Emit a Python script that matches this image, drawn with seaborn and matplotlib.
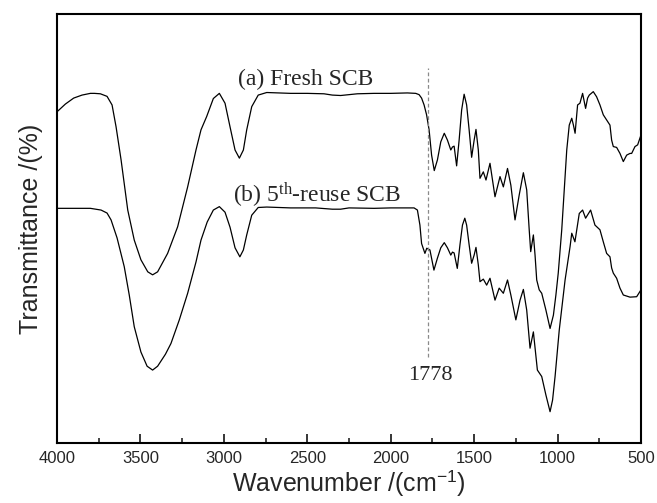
import numpy as np
import pandas as pd
import matplotlib
matplotlib.use("Agg")
import matplotlib.pyplot as plt
import seaborn as sns

# ---- data (wavenumber in cm^-1, transmittance in arbitrary units) ----
fresh_wn = [4000, 3950, 3900, 3850, 3800, 3776, 3740, 3700, 3670, 3646, 3616, 3576, 3537, 3497,
            3456, 3427, 3397, 3337, 3277, 3217, 3167, 3137, 3103, 3063, 3027, 2993, 2963, 2933,
            2907, 2883, 2863, 2833, 2794, 2743, 2600, 2500, 2400, 2350, 2300, 2250, 2200, 2100,
            2000, 1900, 1850, 1830, 1815, 1800, 1785, 1770, 1755, 1739, 1720, 1700, 1679, 1660,
            1640, 1630, 1620, 1605, 1590, 1575, 1560, 1545, 1530, 1515, 1500, 1489, 1475, 1465,
            1445, 1429, 1405, 1375, 1345, 1325, 1300, 1280, 1255, 1230, 1205, 1185, 1170, 1161,
            1145, 1135, 1125, 1110, 1095, 1070, 1045, 1025, 1010, 996, 975, 960, 945, 930, 915,
            905, 895, 880, 866, 850, 832, 820, 810, 786, 766, 746, 726, 706, 686, 676, 666, 646,
            626, 606, 586, 566, 556, 536, 520, 500]
fresh_T = [77.2, 79.0, 80.4, 81.1, 81.5, 81.5, 81.4, 80.8, 78.8, 73.7, 66.0, 54.3, 47.3, 42.7,
           39.9, 39.2, 39.9, 44.2, 50.4, 59.7, 68.3, 73.0, 76.1, 80.3, 81.5, 79.2, 73.7, 68.3,
           66.4, 68.3, 73.0, 78.4, 81.1, 81.7, 81.5, 81.5, 81.4, 81.1, 81.0, 81.2, 81.4, 81.5,
           81.5, 81.6, 81.5, 81.2, 80.4, 78.8, 76.5, 73.0, 67.1, 63.5, 66.0, 70.2, 72.2, 70.6,
           68.3, 69.0, 69.2, 64.6, 70.6, 77.6, 81.3, 78.8, 73.0, 66.6, 70.6, 73.1, 68.3, 61.7,
           63.2, 61.3, 65.2, 57.4, 62.1, 59.7, 64.0, 60.1, 52.0, 57.8, 63.0, 59.0, 49.7, 44.6,
           48.5, 43.8, 38.0, 35.7, 34.9, 31.0, 26.7, 29.8, 34.5, 39.6, 49.7, 59.0, 68.3, 74.1, 75.7,
           74.1, 72.2, 78.8, 79.2, 81.5, 78.0, 80.4, 81.1, 81.9, 80.7, 78.8, 76.5, 75.3, 74.1, 70.6,
           69.1, 68.9, 67.5, 65.6, 67.1, 67.5, 67.5, 69.1, 69.5, 71.8]

reuse_wn = [4000, 3900, 3800, 3736, 3700, 3676, 3640, 3597, 3567, 3537, 3497, 3460, 3427, 3397,
            3350, 3317, 3267, 3217, 3167, 3137, 3100, 3063, 3027, 2993, 2963, 2933, 2904, 2883,
            2863, 2833, 2794, 2743, 2600, 2450, 2350, 2300, 2250, 2100, 2000, 1900, 1860, 1840,
            1825, 1815, 1795, 1784, 1765, 1741, 1720, 1700, 1679, 1660, 1640, 1630, 1620, 1601,
            1585, 1570, 1556, 1545, 1530, 1515, 1500, 1489, 1475, 1465, 1445, 1425, 1405, 1375,
            1350, 1325, 1300, 1280, 1250, 1225, 1205, 1185, 1165, 1145, 1121, 1095, 1070, 1045,
            1030, 1015, 990, 955, 925, 915, 896, 870, 850, 832, 802, 776, 746, 726, 706, 686, 676,
            666, 646, 626, 606, 566, 526, 500]
reuse_T = [54.7, 54.7, 54.7, 54.3, 53.6, 52.0, 47.8, 41.1, 34.5, 27.1, 21.2, 17.9, 17.0, 17.9,
           20.7, 23.2, 28.7, 34.9, 42.2, 47.3, 51.5, 54.3, 55.1, 53.8, 50.3, 45.5, 43.4, 45.0,
           48.5, 53.1, 54.9, 55.0, 54.8, 54.8, 54.5, 54.5, 54.8, 54.7, 54.8, 54.8, 54.8, 54.3,
           50.8, 46.5, 44.2, 45.4, 45.0, 40.3, 43.1, 45.5, 46.7, 45.5, 43.8, 44.5, 44.3, 40.7,
           46.2, 50.8, 52.4, 50.8, 46.2, 41.9, 43.8, 45.6, 41.5, 37.6, 38.2, 36.8, 38.4, 33.3,
           36.1, 34.9, 38.0, 34.5, 28.7, 33.3, 35.8, 31.0, 22.1, 25.9, 17.0, 15.5, 11.2, 7.3,
           10.0, 15.5, 26.3, 38.0, 45.8, 48.9, 46.9, 53.5, 54.3, 52.4, 54.3, 50.8, 49.7, 46.9,
           44.2, 43.4, 40.8, 39.6, 38.4, 36.1, 34.5, 34.0, 34.1, 35.7]

series_names = ["(a) Fresh SCB", "(b) 5th-reuse SCB"]
marker_wn = 1778
x_ticks = [4000, 3500, 3000, 2500, 2000, 1500, 1000, 500]

df = pd.concat([
    pd.DataFrame({"wn": fresh_wn, "T": fresh_T, "sample": series_names[0]}),
    pd.DataFrame({"wn": reuse_wn, "T": reuse_T, "sample": series_names[1]}),
], ignore_index=True)

sns.set_style("ticks")
plt.rcParams["font.family"] = ["Liberation Sans", "DejaVu Sans"]
plt.rcParams["mathtext.fontset"] = "custom"
plt.rcParams["mathtext.rm"] = "Liberation Serif"
plt.rcParams["mathtext.it"] = "Liberation Serif:italic"
plt.rcParams["mathtext.sf"] = "Liberation Sans"

fig = plt.figure(figsize=(6.57, 5.03), dpi=100)
ax = fig.add_axes([57 / 657, 1 - 443 / 503, (641 - 57) / 657, (443 - 14) / 503])

sns.lineplot(data=df, x="wn", y="T", hue="sample", palette=["black", "black"],
             estimator=None, sort=False, legend=False, linewidth=0.9, ax=ax)

ax.set_xlim(4000, 500)
ax.set_ylim(0, 100)
ax.set_xticks(x_ticks)
ax.set_xticks(np.arange(3750, 500, -500), minor=True)
ax.set_yticks([])
ax.tick_params(axis="x", which="major", direction="in", length=6.5, width=1.3,
               labelsize=12, pad=6, top=False)
ax.tick_params(axis="x", which="minor", direction="in", length=3.5, width=1.2, top=False)
for s in ax.spines.values():
    s.set_visible(True)
    s.set_linewidth(1.5)
    s.set_color("black")

ax.set_xlabel(r"Wavenumber /(cm$^{\mathsf{-1}}$)", fontsize=18, labelpad=1)
ax.set_ylabel("Transmittance /(%)", fontsize=18, labelpad=10)

ax.plot([marker_wn, marker_wn], [20.1, 87.4], color="#8a8a8a", linestyle=(0, (3, 2)), linewidth=0.9)

serif = ["Liberation Serif", "DejaVu Serif"]
ax.text(2913, 83.4, "(a) Fresh SCB", family=serif, fontsize=17, ha="left", va="baseline")
ax.text(2943, 56.2, r"(b) 5$^{\mathrm{th}}$-reuse SCB", family=serif, fontsize=17,
        ha="left", va="baseline")
ax.text(1765, 14.7, str(marker_wn), family=serif, fontsize=16, ha="center", va="baseline")

fig.savefig("out.png", dpi=100)
